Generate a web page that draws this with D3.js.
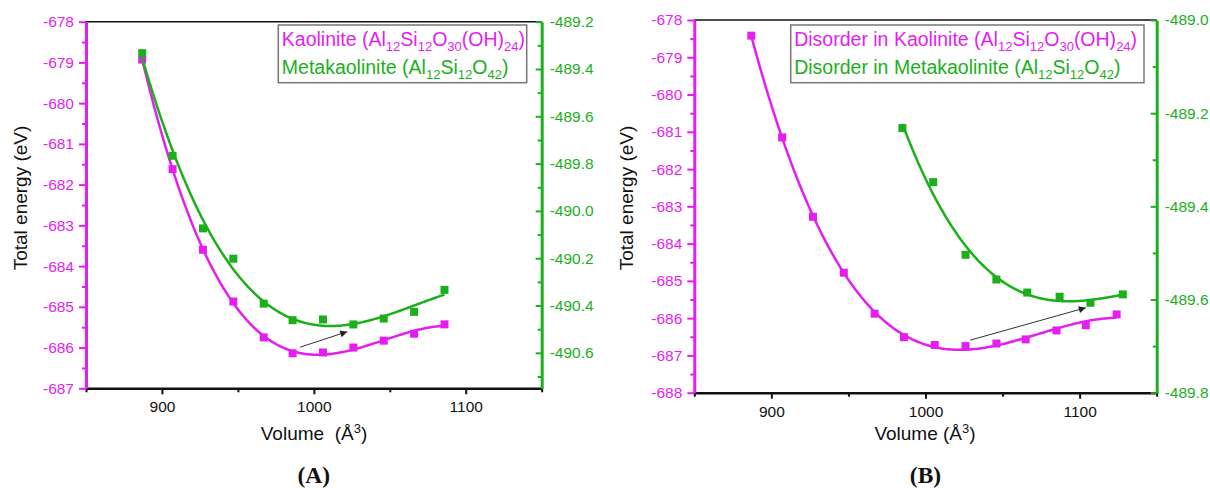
<!DOCTYPE html>
<html><head><meta charset="utf-8">
<script src="https://cdn.jsdelivr.net/npm/d3@7"></script>
<style>body{margin:0;background:#fff;} svg{display:block;} text{white-space:pre;}</style>
</head><body>
<svg id="chart" width="1210" height="488"></svg>
<script>
// ---------------- data ----------------
// Panel A
const volA_kao  = [887, 907, 927, 947, 967, 986, 1006, 1026, 1046, 1066, 1086];
const eA_kao    = [-678.93, -681.62, -683.60, -684.87, -685.75, -686.14, -686.12, -686.00, -685.83, -685.66, -685.43];
const volA_meta = [887, 907, 927, 947, 967, 986, 1006, 1026, 1046, 1066, 1086];
const eA_meta   = [-489.333, -489.767, -490.074, -490.202, -490.392, -490.462, -490.459, -490.480, -490.455, -490.427, -490.334];
// Panel B
const volB_kao  = [887, 907, 927, 947, 967, 986, 1006, 1026, 1046, 1065, 1085, 1104, 1124];
const eB_kao    = [-678.42, -681.15, -683.28, -684.78, -685.88, -686.51, -686.72, -686.75, -686.68, -686.57, -686.33, -686.19, -685.90];
const volB_meta = [985, 1005, 1026, 1046, 1066, 1087, 1107, 1128];
const eB_meta   = [-489.232, -489.348, -489.504, -489.557, -489.585, -489.594, -489.607, -489.589];

// axes / ticks
const xDomain = [850, 1150];
const xTicks = [900, 1000, 1100];
const xMinorTicks = [850, 950, 1050, 1150];
const yLeftDomainA = [-687, -678];
const yLeftDomainB = [-688, -678];
const yRightDomainA = [-490.75, -489.2];
const yRightDomainB = [-489.8, -489.0];
const yLeftTicksA = [-687, -686, -685, -684, -683, -682, -681, -680, -679, -678];
const yLeftTicksB = [-688, -687, -686, -685, -684, -683, -682, -681, -680, -679, -678];
const yRightTicksA = [-490.6, -490.4, -490.2, -490.0, -489.8, -489.6, -489.4, -489.2];
const yRightMinorA = [-490.7, -490.5, -490.3, -490.1, -489.9, -489.7, -489.5, -489.3];
const yRightTicksB = [-489.8, -489.6, -489.4, -489.2, -489.0];
const yRightMinorB = [-489.7, -489.5, -489.3, -489.1];

// text
const yTitle = "Total energy (eV)";
const xTitleA = [["Volume  (Å",0],["3",2],[")",0]];
const xTitleB = [["Volume (Å",0],["3",2],[")",0]];
const legendA = [
  [["Kaolinite (Al",0],["12",1],["Si",0],["12",1],["O",0],["30",1],["(OH)",0],["24",1],[")",0]],
  [["Metakaolinite (Al",0],["12",1],["Si",0],["12",1],["O",0],["42",1],[")",0]]
];
const legendB = [
  [["Disorder in Kaolinite (Al",0],["12",1],["Si",0],["12",1],["O",0],["30",1],["(OH)",0],["24",1],[")",0]],
  [["Disorder in Metakaolinite (Al",0],["12",1],["Si",0],["12",1],["O",0],["42",1],[")",0]]
];
// arrow annotations in data units (left axis)
const arrowA = {from: [991, -685.99], to: [1022, -685.61]};
const arrowB = {from: [1029, -686.59], to: [1104, -685.72]};

// ---------------- style ----------------
const MAG = "#e41ef0", GRN = "#1bb01b";
const FONT = "'Liberation Sans', Arial, sans-serif";

const svg = d3.select("#chart");
svg.append("defs").append("marker")
  .attr("id","arrowhead").attr("viewBox","0 0 10 10").attr("refX",10).attr("refY",5)
  .attr("markerWidth",10).attr("markerHeight",7).attr("markerUnits","userSpaceOnUse")
  .attr("orient","auto")
  .append("path").attr("d","M0,0 L10,5 L0,10 z").attr("fill","#222");

function polyfit(xs, ys, deg){
  const n = xs.length, mx = d3.mean(xs), sx = (d3.max(xs)-d3.min(xs))/2;
  const t = xs.map(x => (x-mx)/sx);
  const m = deg+1;
  const A = Array.from({length:m}, () => new Array(m+1).fill(0));
  for (let i=0;i<n;i++){
    const p=[]; for(let k=0;k<m;k++) p.push(Math.pow(t[i],k));
    for(let r=0;r<m;r++){ for(let c=0;c<m;c++) A[r][c]+=p[r]*p[c]; A[r][m]+=p[r]*ys[i]; }
  }
  for(let col=0;col<m;col++){
    let piv=col; for(let r=col+1;r<m;r++) if(Math.abs(A[r][col])>Math.abs(A[piv][col])) piv=r;
    [A[col],A[piv]]=[A[piv],A[col]];
    for(let r=0;r<m;r++){ if(r===col) continue; const f=A[r][col]/A[col][col]; for(let c=col;c<=m;c++) A[r][c]-=f*A[col][c]; }
  }
  const coef = A.map((row,i)=>row[m]/row[i]);
  return x => { const tt=(x-mx)/sx; let s=0; for(let k=m-1;k>=0;k--) s=s*tt+coef[k]; return s; };
}

function richText(g, x, y, segs, size, color){
  const t = g.append("text").attr("x",x).attr("y",y).attr("font-family",FONT)
    .attr("font-size",size).attr("fill",color);
  let shifted = 0;
  segs.forEach(([s, sub]) => {
    const sp = t.append("tspan").text(s);
    if (sub === 1) { sp.attr("font-size", Math.round(size*0.68)).attr("dy", 4.5 - shifted); shifted = 4.5; }
    else if (sub === 2) { sp.attr("font-size", Math.round(size*0.68)).attr("dy", -7 - shifted); shifted = -7; }
    else { sp.attr("dy", -shifted); shifted = 0; }
  });
  return t;
}

function panel(c){
  const g = svg.append("g");
  const x = d3.scaleLinear().domain(xDomain).range([c.L, c.R]);
  const yL = d3.scaleLinear().domain(c.yLD).range([c.B, c.T]);
  const yR = d3.scaleLinear().domain(c.yRD).range([c.B, c.T]);

  // top border
  g.append("line").attr("x1",c.L).attr("x2",c.R).attr("y1",c.T).attr("y2",c.T)
    .attr("stroke","#111").attr("stroke-width",1.5);

  // bottom axis
  const gx = g.append("g").attr("transform",`translate(0,${c.B})`)
    .call(d3.axisBottom(x).tickValues(xTicks).tickSize(6).tickSizeOuter(0).tickPadding(7).tickFormat(d3.format("d")));
  gx.select(".domain").attr("stroke","#111").attr("stroke-width",2.5);
  gx.selectAll(".tick line").attr("stroke","#111").attr("stroke-width",2);
  gx.selectAll("text").attr("font-family",FONT).attr("font-size",15.5).attr("fill","#111");
  const gxm = g.append("g").attr("transform",`translate(0,${c.B})`)
    .call(d3.axisBottom(x).tickValues(xMinorTicks).tickSize(4).tickFormat(""));
  gxm.select(".domain").remove();
  gxm.selectAll(".tick line").attr("stroke","#111").attr("stroke-width",2);

  // left axis
  const gl = g.append("g").attr("transform",`translate(${c.L},0)`)
    .call(d3.axisLeft(yL).tickValues(c.yLT).tickSize(7).tickSizeOuter(0).tickPadding(5).tickFormat(d=>d.toFixed(0)));
  gl.select(".domain").attr("stroke",MAG).attr("stroke-width",3);
  gl.selectAll(".tick line").attr("stroke",MAG).attr("stroke-width",2);
  gl.selectAll("text").attr("font-family",FONT).attr("font-size",15.5).attr("fill",MAG);
  const glm = g.append("g").attr("transform",`translate(${c.L},0)`)
    .call(d3.axisLeft(yL).tickValues(c.yLT.slice(0,-1).map(v=>v+0.5)).tickSize(4).tickFormat(""));
  glm.select(".domain").remove();
  glm.selectAll(".tick line").attr("stroke",MAG).attr("stroke-width",2);

  // right axis (ticks inward)
  const gr = g.append("g").attr("transform",`translate(${c.R},0)`)
    .call(d3.axisRight(yR).tickValues(c.yRT).tickSize(-6).tickSizeOuter(0).tickPadding(8).tickFormat(d=>d.toFixed(1)));
  gr.select(".domain").attr("stroke",GRN).attr("stroke-width",3);
  gr.selectAll(".tick line").attr("stroke",GRN).attr("stroke-width",2);
  gr.selectAll("text").attr("font-family",FONT).attr("font-size",15.5).attr("fill",GRN);
  const grm = g.append("g").attr("transform",`translate(${c.R},0)`)
    .call(d3.axisRight(yR).tickValues(c.yRM).tickSize(-4).tickFormat(""));
  grm.select(".domain").remove();
  grm.selectAll(".tick line").attr("stroke",GRN).attr("stroke-width",2);

  // series
  c.series.forEach(s => {
    const y = s.axis === "left" ? yL : yR;
    const f = polyfit(s.vol, s.e, s.deg || 3);
    const x0 = d3.min(s.vol), x1 = d3.max(s.vol);
    const pts = d3.range(0, 201).map(i => { const v = x0 + (x1-x0)*i/200; return [v, f(v)]; });
    g.append("path").datum(pts)
      .attr("d", d3.line().x(d=>x(d[0])).y(d=>y(d[1])))
      .attr("fill","none").attr("stroke",s.color).attr("stroke-width",2.5);
    g.selectAll(null).data(d3.zip(s.vol, s.e)).join("rect")
      .attr("x", d=>x(d[0])-4).attr("y", d=>y(d[1])-4).attr("width",8).attr("height",8)
      .attr("fill", s.color);
  });

  // arrow
  g.append("line")
    .attr("x1",x(c.arrow.from[0])).attr("y1",yL(c.arrow.from[1]))
    .attr("x2",x(c.arrow.to[0])).attr("y2",yL(c.arrow.to[1]))
    .attr("stroke","#333").attr("stroke-width",1).attr("marker-end","url(#arrowhead)");

  // legend
  const lg = g.append("g");
  lg.append("rect").attr("x",c.leg.x).attr("y",c.leg.y).attr("width",c.leg.w).attr("height",c.leg.h)
    .attr("fill","#fff").attr("stroke","#777").attr("stroke-width",1.5);
  richText(lg, c.leg.x+3.5, c.leg.y+21, c.legend[0], 19.5, MAG);
  richText(lg, c.leg.x+3.5, c.leg.y+49, c.legend[1], 19.5, GRN);

  // axis titles
  g.append("text").attr("transform",`translate(${c.ytx},${c.yty}) rotate(-90)`)
    .attr("text-anchor","middle").attr("font-family",FONT).attr("font-size",19).attr("fill","#111")
    .text(yTitle);
  richText(g, c.xtx, 439.5, c.xtitle, 19, "#111").attr("text-anchor","middle");

  // panel label
  g.append("text").attr("x",(c.L+c.R)/2).attr("y",483).attr("text-anchor","middle")
    .attr("font-family","'Liberation Serif', 'Times New Roman', serif").attr("font-weight","bold")
    .attr("font-size",23.5).attr("fill","#111").text(c.label);
}

panel({
  L:86, R:541.7, T:21.7, B:388.3,
  yLD:yLeftDomainA, yRD:yRightDomainA, yLT:yLeftTicksA, yRT:yRightTicksA, yRM:yRightMinorA,
  series:[{vol:volA_kao, e:eA_kao, axis:"left", color:MAG},
          {vol:volA_meta, e:eA_meta, axis:"right", color:GRN}],
  arrow:arrowA,
  leg:{x:278.3, y:25, w:248.4, h:57.7}, legend:legendA,
  ytx:27, yty:198, xtx:314, xtitle:xTitleA,
  label:"(A)"
});
panel({
  L:694.3, R:1156.7, T:20, B:392.7,
  yLD:yLeftDomainB, yRD:yRightDomainB, yLT:yLeftTicksB, yRT:yRightTicksB, yRM:yRightMinorB,
  series:[{vol:volB_kao, e:eB_kao, axis:"left", color:MAG},
          {vol:volB_meta, e:eB_meta, axis:"right", color:GRN}],
  arrow:arrowB,
  leg:{x:790.7, y:25, w:353.3, h:57.7}, legend:legendB,
  ytx:633, yty:198, xtx:925, xtitle:xTitleB,
  label:"(B)"
});
</script>
</body></html>
